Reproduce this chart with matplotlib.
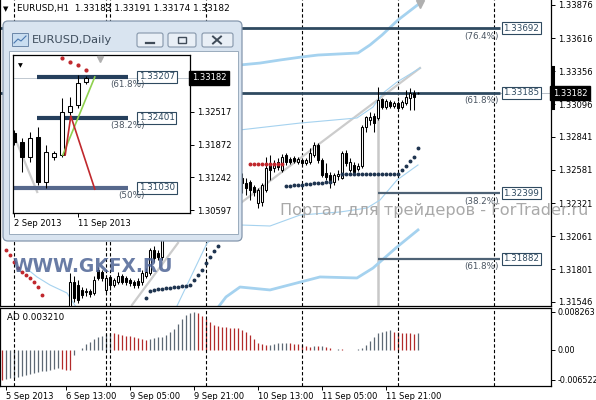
import matplotlib.pyplot as plt
from matplotlib.patches import Rectangle, FancyBboxPatch
from matplotlib.transforms import blended_transform_factory
import numpy as np

# ---- H1 candles, bar 0 = 5 Sep 21:00 ----
opens = [1.31420, 1.31380, 1.31330, 1.31350, 1.31270, 1.31240, 1.31260, 1.31220, 1.31200, 1.31240,
         1.31210, 1.31260, 1.31300, 1.31280, 1.31320, 1.31360, 1.31330, 1.31500, 1.31701, 1.31678,
         1.31639, 1.31623, 1.31631, 1.31615, 1.31796, 1.31780, 1.31639, 1.31741, 1.31678, 1.31701,
         1.31749, 1.31733, 1.31717, 1.31701, 1.31709, 1.31701, 1.31749, 1.31772, 1.31953, 1.31929,
         1.31898, 1.32110, 1.32227, 1.32345, 1.32424, 1.32541, 1.32596, 1.32659, 1.32620, 1.32675,
         1.32620, 1.32565, 1.32596, 1.32541, 1.32581, 1.32518, 1.32565, 1.32533, 1.32549, 1.32502,
         1.32518, 1.32478, 1.32486, 1.32447, 1.32321, 1.32329, 1.32424, 1.32636, 1.32596, 1.32643,
         1.32581, 1.32698, 1.32667, 1.32675, 1.32643, 1.32659, 1.32636, 1.32643, 1.32698, 1.32777,
         1.32659, 1.32557, 1.32541, 1.32486, 1.32533, 1.32518, 1.32714, 1.32581, 1.32620, 1.32588,
         1.32612, 1.32918, 1.32973, 1.33005, 1.32989, 1.33138, 1.33075, 1.33114, 1.33083, 1.33106,
         1.33075, 1.33106, 1.33146, 1.33185, 1.33183]
highs = [1.31470, 1.31420, 1.31390, 1.31400, 1.31320, 1.31300, 1.31310, 1.31280, 1.31260, 1.31290,
         1.31280, 1.31320, 1.31350, 1.31340, 1.31380, 1.31400, 1.31450, 1.31772, 1.31749, 1.31717,
         1.31662, 1.31654, 1.31647, 1.31749, 1.31819, 1.31796, 1.31756, 1.31756, 1.31733, 1.31780,
         1.31764, 1.31749, 1.31733, 1.31717, 1.31733, 1.31796, 1.31811, 1.31968, 1.31984, 1.31953,
         1.32149, 1.32267, 1.32384, 1.32463, 1.32581, 1.32659, 1.32698, 1.32722, 1.32738, 1.32698,
         1.32659, 1.32636, 1.32620, 1.32612, 1.32596, 1.32581, 1.32596, 1.32581, 1.32565, 1.32565,
         1.32557, 1.32518, 1.32502, 1.32463, 1.32439, 1.32478, 1.32683, 1.32698, 1.32659, 1.32675,
         1.32706, 1.32714, 1.32683, 1.32691, 1.32683, 1.32675, 1.32675, 1.32753, 1.32800, 1.32792,
         1.32675, 1.32636, 1.32565, 1.32557, 1.32581, 1.32730, 1.32738, 1.32675, 1.32643, 1.32636,
         1.32934, 1.33005, 1.33036, 1.33028, 1.33232, 1.33146, 1.33138, 1.33130, 1.33122, 1.33122,
         1.33130, 1.33208, 1.33224, 1.33208, 1.33191]
lows = [1.31350, 1.31300, 1.31280, 1.31250, 1.31200, 1.31180, 1.31200, 1.31150, 1.31160, 1.31190,
        1.31180, 1.31220, 1.31250, 1.31240, 1.31280, 1.31300, 1.31300, 1.31460, 1.31545, 1.31537,
        1.31576, 1.31592, 1.31584, 1.31600, 1.31717, 1.31709, 1.31615, 1.31639, 1.31662, 1.31686,
        1.31686, 1.31678, 1.31670, 1.31654, 1.31654, 1.31678, 1.31733, 1.31756, 1.31858, 1.31874,
        1.31874, 1.32070, 1.32188, 1.32306, 1.32384, 1.32502, 1.32565, 1.32581, 1.32581, 1.32565,
        1.32518, 1.32502, 1.32486, 1.32502, 1.32463, 1.32478, 1.32486, 1.32502, 1.32463, 1.32455,
        1.32400, 1.32384, 1.32345, 1.32376, 1.32282, 1.32298, 1.32408, 1.32502, 1.32565, 1.32581,
        1.32565, 1.32620, 1.32628, 1.32636, 1.32628, 1.32620, 1.32620, 1.32628, 1.32683, 1.32636,
        1.32526, 1.32502, 1.32439, 1.32463, 1.32502, 1.32510, 1.32612, 1.32565, 1.32549, 1.32573,
        1.32596, 1.32879, 1.32934, 1.32879, 1.32973, 1.33059, 1.33059, 1.33067, 1.33067, 1.33052,
        1.33059, 1.33091, 1.33052, 1.33052, 1.33174]
closes = [1.31380, 1.31330, 1.31350, 1.31270, 1.31240, 1.31260, 1.31220, 1.31200, 1.31240, 1.31210,
          1.31260, 1.31300, 1.31280, 1.31320, 1.31360, 1.31330, 1.31420, 1.31701, 1.31576, 1.31560,
          1.31600, 1.31631, 1.31607, 1.31717, 1.31733, 1.31733, 1.31733, 1.31678, 1.31717, 1.31749,
          1.31701, 1.31701, 1.31694, 1.31678, 1.31678, 1.31772, 1.31780, 1.31953, 1.31890, 1.31898,
          1.32110, 1.32227, 1.32345, 1.32424, 1.32541, 1.32596, 1.32659, 1.32620, 1.32675, 1.32620,
          1.32565, 1.32596, 1.32541, 1.32581, 1.32518, 1.32565, 1.32533, 1.32549, 1.32502, 1.32533,
          1.32478, 1.32439, 1.32424, 1.32408, 1.32424, 1.32463, 1.32596, 1.32581, 1.32636, 1.32604,
          1.32683, 1.32643, 1.32643, 1.32651, 1.32667, 1.32636, 1.32659, 1.32714, 1.32777, 1.32659,
          1.32541, 1.32526, 1.32502, 1.32541, 1.32549, 1.32714, 1.32636, 1.32643, 1.32565, 1.32612,
          1.32918, 1.32997, 1.32997, 1.32950, 1.33130, 1.33075, 1.33122, 1.33083, 1.33106, 1.33067,
          1.33114, 1.33153, 1.33185, 1.33153, 1.33182]

# AD histogram values (x1e-3)
ad_values = [-6.52, -6.35, -6.2, -6.05, -5.9, -5.7, -5.5, -5.3, -5.1, -4.9,
             -4.7, -4.5, -4.3, -4.1, -3.9, -4.1, -4.3, -4.4, -1.2, -0.1,
             0.4, 1.3, 1.8, 2.3, 2.7, 3.1, 3.5, 3.7, 3.6, 3.4,
             3.3, 3.1, 3.0, 2.8, 2.6, 2.4, 2.2, 2.3, 2.5, 2.7,
             2.9, 3.2, 3.8, 4.6, 5.7, 6.8, 7.7, 8.1, 8.263, 8.0,
             7.3, 6.7, 6.0, 5.5, 5.2, 5.0, 4.9, 4.85, 4.8, 4.7,
             4.4, 4.0, 3.3, 2.3, 1.6, 1.2, 1.0, 1.1, 1.2, 1.4,
             1.5, 1.55, 1.4, 1.35, 1.2, 1.1, 0.9, 0.7, 0.8, 0.75,
             0.9, 0.7, 0.4, 0.0, 0.12, 0.1, 0.05, 0.0, 0.05, 0.15,
             0.5, 1.1, 2.0, 2.7, 3.6, 4.0, 4.2, 4.25, 4.0, 3.8,
             3.75, 3.7, 3.6, 3.4, 3.6]

# parabolic SAR dots
sar_red_bars = [1, 2, 3, 4, 5, 6, 7, 8, 9, 10, 62, 63, 64, 65, 66, 67, 68, 69, 70]
sar_red_vals = [1.31953, 1.31913, 1.31858, 1.31811, 1.31780, 1.31756, 1.31733, 1.31701, 1.31662, 1.31600,
                1.32628, 1.32628, 1.32628, 1.32628, 1.32628, 1.32628, 1.32628, 1.32628, 1.32628]
sar_blue_bars = [36, 37, 38, 39, 40, 41, 42, 43, 44, 45, 46, 47, 48, 49, 50, 51, 52, 53, 54,
                 71, 72, 73, 74, 75, 76, 77, 78, 79, 80, 81, 82,
                 85, 86, 87, 88, 89, 90, 91, 92, 93, 94, 95, 96, 97, 98, 99, 100, 101, 102, 103, 104]
sar_blue_vals = [1.31576, 1.31631, 1.31639, 1.31643, 1.31647, 1.31651, 1.31655, 1.31659, 1.31663,
                 1.31667, 1.31671, 1.31678, 1.31717, 1.31756, 1.31796, 1.31850, 1.31898, 1.31945, 1.31984,
                 1.32455, 1.32457, 1.32460, 1.32463, 1.32466, 1.32469, 1.32472, 1.32475, 1.32478, 1.32481,
                 1.32484, 1.32486,
                 1.32549, 1.32549, 1.32549, 1.32549, 1.32549, 1.32549, 1.32549, 1.32549, 1.32549, 1.32549,
                 1.32549, 1.32549, 1.32549, 1.32549, 1.32549, 1.32581, 1.32612, 1.32651, 1.32683, 1.32753]

# envelope / band lines (knots)
band_thick_up_x = [59.5, 64.5, 69.5, 75, 79, 84, 89, 92, 95, 99, 104.5]
band_thick_up_y = [1.33405, 1.33420, 1.33444, 1.33468, 1.33483, 1.33491, 1.33499, 1.33562, 1.33640, 1.33758, 1.33891]
band_thin_up_x = [59.5, 74.5, 88.75, 92.75, 95.25, 98.75, 104.5]
band_thin_up_y = [1.32895, 1.32949, 1.32989, 1.33075, 1.33185, 1.33271, 1.33381]
band_thin_lo_x = [43.5, 51.25, 55, 59.5, 67, 74.5, 84.5, 91.25, 94.5, 98.75, 104]
band_thin_lo_y = [1.31497, 1.32007, 1.32094, 1.32149, 1.32141, 1.32227, 1.32251, 1.32282, 1.32345, 1.32502, 1.32620]
band_thick_lo_x = [53.5, 56, 59.5, 67, 79.5, 88.75, 92.75, 98.75, 104]
band_thick_lo_y = [1.31481, 1.31584, 1.31662, 1.31639, 1.31741, 1.31733, 1.31811, 1.31976, 1.32110]
band_old_x = [6, 8.75, 12, 16.25, 19]
band_old_y = [1.31811, 1.31741, 1.31678, 1.31615, 1.31481]

# trend lines
trend_a_x = [32.5, 44]
trend_a_y = [1.31521, 1.32008]
trend_b_x = [58, 104.5]
trend_b_y = [1.32282, 1.33381]

# fibo levels on H1
fib_levels = [1.33692, 1.33185, 1.32399, 1.31882]
fib_pcts = ['(76.4%)', '(61.8%)', '(38.2%)', '(61.8%)']
fib_start = [-0.5, -0.5, 94, 94]

price_ticks = [1.33876, 1.33616, 1.33356, 1.33096, 1.32841, 1.32581, 1.32321, 1.32061, 1.31801, 1.31546]
time_tick_bars = [1, 16, 32, 48, 64, 80, 96]
time_labels = ['5 Sep 2013', '6 Sep 13:00', '9 Sep 05:00', '9 Sep 21:00', '10 Sep 13:00',
               '11 Sep 05:00', '11 Sep 21:00']
separator_bars = [3, 26, 27, 51, 75, 99, 123]
last_price = 1.33182

# ---- Daily inset ----
d_open = [1.32105, 1.31929, 1.31635, 1.32027, 1.31146, 1.31635, 1.31674, 1.32516, 1.32653, 1.33104]
d_high = [1.32164, 1.32007, 1.32125, 1.32223, 1.31870, 1.31753, 1.32790, 1.32810, 1.33241, 1.33221]
d_low = [1.31870, 1.31342, 1.31537, 1.31087, 1.31028, 1.31576, 1.31635, 1.32458, 1.32600, 1.33065]
d_close = [1.31929, 1.31635, 1.32007, 1.31146, 1.31733, 1.31714, 1.32516, 1.32634, 1.33084, 1.33182]
d_sar_bars = [6, 7, 8, 9]
d_sar_vals = [1.33574, 1.33495, 1.33437, 1.33339]
d_fib_levels = [1.33207, 1.32401, 1.31030]
d_fib_pcts = ['(61.8%)', '(38.2%)', '(50%)']
d_price_ticks = [1.32517, 1.31872, 1.31242, 1.30597]
d_zig_red_x = [6.4, 7.1, 10.1]
d_zig_red_y = [1.31674, 1.32438, 1.31006]
d_zig_green_x = [6.1, 10.1]
d_zig_green_y = [1.31674, 1.33202]

W, H = 596, 400
plt.rcParams['font.family'] = 'DejaVu Sans'
fig = plt.figure(figsize=(W / 100, H / 100), dpi=100)
fig.patch.set_facecolor('white')
FS = 6.0


def fr(x0, y0, x1, y1):
    return [x0 / W, 1 - y1 / H, (x1 - x0) / W, (y1 - y0) / H]


def candles(ax, xs, o, h, l, c, width, lw=0.75):
    for x, oo, hh, ll, cc in zip(xs, o, h, l, c):
        ax.plot([x, x], [ll, hh], color='black', lw=lw, zorder=3, solid_capstyle='butt')
        lo_, hi_ = min(oo, cc), max(oo, cc)
        face = 'white' if cc >= oo else 'black'
        ax.add_patch(Rectangle((x - width / 2, lo_), width, max(hi_ - lo_, 0.00002),
                               facecolor=face, edgecolor='black', lw=lw, zorder=4))


bars = np.arange(len(opens))
dark = '#2f4a60'
blue_band = '#a5d2ef'

# ---- main H1 panel ----
ax = fig.add_axes(fr(0, 0, 551, 306))
ax.set_xlim(-0.5, 137.25)
ax.set_ylim(1.31513, 1.33915)
ax.spines['top'].set_visible(False)
for s in ['left', 'right', 'bottom']:
    ax.spines[s].set_linewidth(0.9)
ax.set_xticks([])
ax.yaxis.tick_right()
ax.set_yticks(price_ticks)
ax.set_yticklabels([f'{v:.5f}' for v in price_ticks])
ax.tick_params(axis='y', labelsize=FS, length=3, width=0.7, pad=2)

for b in separator_bars:
    ax.axvline(b, color='black', lw=0.8, ls=(0, (3, 2)), zorder=1)

ax.axhline(last_price, color='#b8c0c8', lw=0.7, zorder=1)
ax.plot(trend_a_x, trend_a_y, color='#cccccc', lw=1.6, zorder=1)
ax.plot(trend_b_x, trend_b_y, color='#cccccc', lw=1.6, zorder=1)
ax.plot([94, 94], [1.33000, 1.31513], color='#c8c8c8', lw=1.8, zorder=1)

ax.plot(band_thick_up_x, band_thick_up_y, color=blue_band, lw=2.0, zorder=2)
ax.plot(band_thick_lo_x, band_thick_lo_y, color=blue_band, lw=2.0, zorder=2)
ax.plot(band_thin_up_x, band_thin_up_y, color=blue_band, lw=0.8, zorder=2)
ax.plot(band_thin_lo_x, band_thin_lo_y, color=blue_band, lw=0.8, zorder=2)
ax.plot(band_old_x, band_old_y, color=blue_band, lw=0.8, zorder=2)
ax.plot([104.5], [1.33880], marker='v', color='#b0b0b0', ms=6, zorder=2)

for i, (lv, pct, st) in enumerate(zip(fib_levels, fib_pcts, fib_start)):
    col = dark if i < 2 else '#4e6275'
    ax.plot([st, 124.5], [lv, lv], color=col, lw=2.0 if i < 2 else 1.6, zorder=2,
            solid_capstyle='butt')
    ax.text(125.3, lv, f'{lv:.5f}', fontsize=6.3, color=dark, ha='left', va='center', zorder=6,
            bbox=dict(boxstyle='square,pad=0.18', fc='white', ec=dark, lw=0.8))
    ax.annotate(pct, xy=(124.2, lv), xytext=(0, -2.5), textcoords='offset points',
                ha='right', va='top', fontsize=6.3, color='#4a5562', zorder=6)

candles(ax, bars, opens, highs, lows, closes, 0.62)

ax.plot(sar_red_bars, sar_red_vals, ls='none', marker='o', ms=1.8, color='#c0282d', zorder=5)
ax.plot(sar_blue_bars, sar_blue_vals, ls='none', marker='o', ms=1.8, color='#1f3550', zorder=5)

trans = blended_transform_factory(ax.transAxes, ax.transData)
ax.text(1.003, last_price, f'{last_price:.5f}', transform=trans, fontsize=FS, color='white',
        ha='left', va='center', zorder=7,
        bbox=dict(boxstyle='square,pad=0.3', fc='black', ec='black'))
ax.plot([1.003, 1.003], [1.33070, 1.33390], transform=trans, color='black', lw=2.2,
        clip_on=False, zorder=7)

# ---- AD panel ----
ax2 = fig.add_axes(fr(0, 308, 551, 386))
ad = np.array(ad_values) / 1000
ax2.set_xlim(-0.5, 137.25)
ax2.set_ylim(-0.00788, 0.00913)
colors = ['#b22a2a'] + ['#5d6874' if ad[i] >= ad[i - 1] else '#b22a2a' for i in range(1, len(ad))]
ax2.vlines(bars, 0, ad, colors=colors, lw=0.9)
for b in separator_bars:
    ax2.axvline(b, color='black', lw=0.8, ls=(0, (3, 2)))
for s in ax2.spines.values():
    s.set_linewidth(0.9)
ax2.yaxis.tick_right()
ax2.set_yticks([0.008263, 0.0, -0.006522])
ax2.set_yticklabels(['0.008263', '0.00', '-0.006522'])
ax2.tick_params(axis='y', labelsize=5.8, length=3, width=0.7, pad=1.5)
ax2.set_xticks(time_tick_bars)
ax2.set_xticklabels(time_labels, ha='left')
ax2.tick_params(axis='x', labelsize=FS, length=3, width=0.7, pad=1)
ax2.text(0.012, 0.93, 'AD 0.003210', transform=ax2.transAxes, fontsize=6.3, va='top')

# ---- overlay: header, watermarks, window chrome ----
ov = fig.add_axes([0, 0, 1, 1], zorder=5)
ov.set_xlim(0, W)
ov.set_ylim(H, 0)
ov.axis('off')
ov.patch.set_alpha(0)
ov.text(3, 9, '\u25BC', fontsize=5, va='center', ha='left')
ov.text(17, 9, 'EURUSD,H1  1.33183 1.33191 1.33174 1.33182', fontsize=6.4, va='center')
ov.text(12, 266, 'WWW.GKFX.RU', fontsize=13.4, fontweight='bold', color='#4f6596', alpha=0.85,
        va='center', ha='left')
ov.text(280, 210, 'Портал для трейдеров - ForTrader.ru', fontsize=11.6, color='#a9a9a9',
        va='center', ha='left', zorder=10)

ov.add_patch(FancyBboxPatch((3, 21), 239, 220, boxstyle='round,pad=0,rounding_size=5',
                            fc='#d9e4f0', ec='#8497ad', lw=0.9))
ov.add_patch(Rectangle((9, 51), 229, 183, fc='white', ec='#9aabbd', lw=0.7))
ov.add_patch(Rectangle((12, 33), 16, 13, fc='#c9ddf0', ec='#6b87a8', lw=0.7))
ov.plot([14, 18, 21, 26], [43, 39, 41, 36], color='#4a78b0', lw=0.8)
ov.text(32, 40, 'EURUSD,Daily', fontsize=8.2, color='#3d4c5c', va='center')
for bx0, bx1 in [(137, 163), (168, 196), (202, 233)]:
    ov.add_patch(FancyBboxPatch((bx0, 33), bx1 - bx0, 14, boxstyle='round,pad=0,rounding_size=2',
                                fc='#e9eff6', ec='#8596aa', lw=0.8))
ov.plot([146, 154], [42.5, 42.5], color='#3f4b58', lw=1.6)
ov.add_patch(Rectangle((178, 37), 8, 6, fc='none', ec='#3f4b58', lw=1.0))
ov.plot([213, 221], [36.5, 43.5], color='#3f4b58', lw=1.4)
ov.plot([213, 221], [43.5, 36.5], color='#3f4b58', lw=1.4)

# ---- Daily inset chart ----
ai = fig.add_axes(fr(13, 55, 190, 213), zorder=6)
ai.set_xlim(-0.125, 22)
ai.set_ylim(1.30539, 1.33632)
for s in ai.spines.values():
    s.set_linewidth(0.9)
ai.yaxis.tick_right()
ai.set_yticks(d_price_ticks)
ai.set_yticklabels([f'{v:.5f}' for v in d_price_ticks])
ai.tick_params(axis='y', labelsize=FS, length=3, width=0.7, pad=2)
ai.set_xticks([0, 8])
ai.set_xticklabels(['2 Sep 2013', '11 Sep 2013'], ha='left')
ai.tick_params(axis='x', labelsize=FS, length=3, width=0.7, pad=1)

dbars = np.arange(len(d_open))
ai.axhline(d_close[-1], color='#c0c8d0', lw=0.7, zorder=1)
ai.plot([-0.125, 2.9], [1.32100, 1.30950], color='#cccccc', lw=1.6, zorder=1)
for i, (lv, pct) in enumerate(zip(d_fib_levels, d_fib_pcts)):
    col = '#253f5c' if i < 2 else '#56688c'
    st = 2.9 if i < 2 else -0.125
    ai.plot([st, 14.25], [lv, lv], color=col, lw=3.0, zorder=2, solid_capstyle='butt')
    ai.text(15.6, lv, f'{lv:.5f}', fontsize=6.3, color=dark, ha='left', va='center', zorder=6,
            bbox=dict(boxstyle='square,pad=0.18', fc='white', ec=dark, lw=0.8))
    ai.annotate(pct, xy=(16.4, lv), xytext=(0, -2.5), textcoords='offset points',
                ha='right', va='top', fontsize=6.3, color='#4a5562', zorder=6)
candles(ai, dbars, d_open, d_high, d_low, d_close, 0.55)
ai.plot(d_zig_green_x, d_zig_green_y, color='#8fd14f', lw=1.2, zorder=5)
ai.plot(d_zig_red_x, d_zig_red_y, color='#c0282d', lw=1.2, zorder=5)
ai.plot(d_sar_bars, d_sar_vals, ls='none', marker='o', ms=2, color='#c0282d', zorder=5)
ai.plot([10.75], [1.33560], marker='v', color='#b0b0b0', ms=5, zorder=5)
ai.text(0.03, 0.95, '\u25BC', transform=ai.transAxes, fontsize=4.5, va='top')
ti = blended_transform_factory(ai.transAxes, ai.transData)
ai.text(1.01, d_close[-1], f'{d_close[-1]:.5f}', transform=ti, fontsize=FS, color='white',
        ha='left', va='center', zorder=7,
        bbox=dict(boxstyle='square,pad=0.3', fc='black', ec='black'))

fig.savefig('out.png', dpi=100)
